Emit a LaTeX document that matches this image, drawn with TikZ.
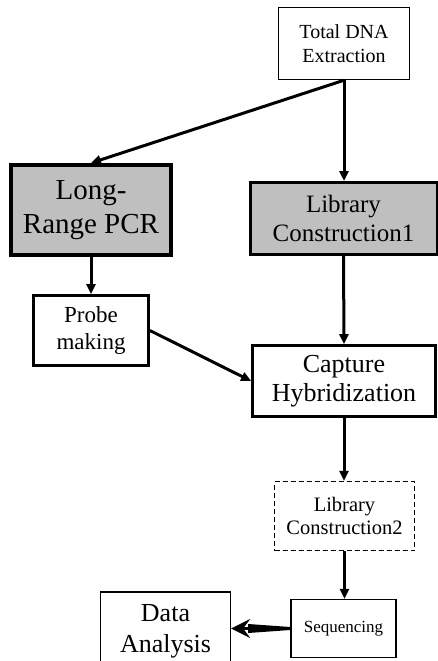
\documentclass[tikz,border=0pt]{standalone}
\usepackage{fontspec}
\setmainfont{Liberation Serif}
\usetikzlibrary{arrows.meta}

\begin{document}
\begin{tikzpicture}
  [
    x=1pt, y=-1pt,
    stage/.style={
      draw,
      rectangle,
      align=center,
      inner sep=0pt,
      line width=1.5pt
    },
    shaded/.style={
      stage,
      fill=black!25
    },
    flow/.style={
      line width=3pt,
      -{Triangle[length=10pt,width=9pt]}
    }
  ]

  \fill [white] (0,0) rectangle (438,661);
  \clip (0,0) rectangle (438,661);

  % stages
  \node [stage, minimum width=131pt, minimum height=72pt,
         font=\fontsize{20}{24}\selectfont] (dna) at (344,43.5) {Total DNA\\Extraction};
  \node [shaded, line width=4pt, minimum width=160pt, minimum height=90pt,
         font=\fontsize{29}{34}\selectfont] (pcr) at (91,210) {Long-\\Range PCR};
  \node [shaded, line width=3pt, minimum width=187pt, minimum height=72pt,
         font=\fontsize{25}{29}\selectfont] (lib1) at (343.5,218.5) {Library\\Construction1};
  \node [stage, line width=2.7pt, minimum width=115pt, minimum height=70pt,
         font=\fontsize{23}{27}\selectfont] (probe) at (91,330.5) {Probe\\making};
  \node [stage, line width=2.7pt, minimum width=183pt, minimum height=71pt,
         font=\fontsize{26}{29}\selectfont] (capture) at (344,381) {Capture\\Hybridization};
  \node [stage, line width=1.3pt, dash pattern=on 5pt off 3pt, minimum width=140pt, minimum height=69pt,
         font=\fontsize{20.5}{23}\selectfont] (lib2) at (344.5,516) {Library\\Construction2};
  \node [stage, line width=1.3pt, minimum width=105pt, minimum height=58pt,
         font=\fontsize{17}{20}\selectfont] (seq) at (343.5,628.5) {Sequencing};
  \node [stage, line width=1.3pt, minimum width=130pt, minimum height=78pt,
         font=\fontsize{26}{31}\selectfont] (data) at (165.5,631) {Data\\Analysis};

  % connectors
  \draw [flow] (dna.south) -- (pcr.north);
  \draw [flow] (dna.south) -- (dna.south |- lib1.north);
  \draw [flow] (pcr.south) -- (probe.north);
  \draw [flow] (probe.east) -- (capture.west);
  \draw [flow] (lib1.south) -- (capture.north);
  \draw [flow] (capture.south) -- (capture.south |- lib2.north);
  \draw [flow] (lib2.south) -- (lib2.south |- seq.north);

  % fat arrow into the analysis box, shaft tapers towards the head
  \coordinate (tip) at (seq.west -| data.east);
  \draw [line width=3pt, -{Stealth[length=19pt,width=19pt,inset=7pt]}] (seq.west) -- (tip);
  \fill ([yshift=1.5pt]seq.west) -- ([xshift=17pt,yshift=4.5pt]tip)
    -- ([xshift=17pt,yshift=-4.5pt]tip) -- ([yshift=-1.5pt]seq.west) -- cycle;
\end{tikzpicture}
\end{document}
